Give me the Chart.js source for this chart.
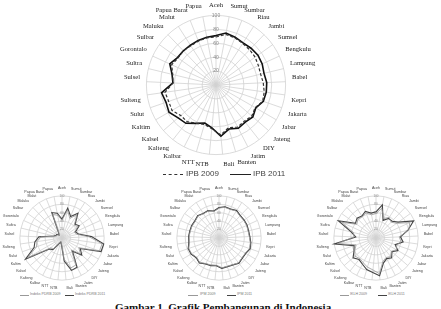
<!DOCTYPE html>
<html>
<head>
<meta charset="utf-8">
<script src="https://cdn.jsdelivr.net/npm/chart.js@4.4.0/dist/chart.umd.min.js"></script>
<style>
body{margin:0;background:#fff;width:441px;height:309px;overflow:hidden;position:relative;font-family:"Liberation Sans",Arial,sans-serif}
canvas{position:absolute}
.ln{position:absolute;height:0}
.tx{position:absolute;white-space:nowrap;color:#444}
#judul{position:absolute;left:115px;top:301px;font:bold 11px "Liberation Serif","Times New Roman",serif;color:#111;white-space:nowrap}
</style>
</head>
<body>
<canvas id="grafikIPB" width="220" height="170"></canvas>
<div class="ln" style="left:163px;top:174px;width:20px;border-top:1.3px dashed #333"></div>
<div class="tx" style="left:186px;top:169px;font-size:8px">IPB 2009</div>
<div class="ln" style="left:230px;top:174px;width:21px;border-top:1.8px solid #222"></div>
<div class="tx" style="left:253px;top:169px;font-size:8px">IPB 2011</div>

<canvas id="grafikPDRB" width="124" height="104"></canvas>
<canvas id="grafikIPM" width="124" height="104"></canvas>
<canvas id="grafikIKLH" width="124" height="104"></canvas>

<div class="ln" style="left:20px;top:295px;width:9px;border-top:0.8px solid #999"></div>
<div class="tx" style="left:30px;top:292px;font-size:3.6px;color:#777">Indeks PDRB 2009</div>
<div class="ln" style="left:65px;top:295px;width:9px;border-top:1px solid #444"></div>
<div class="tx" style="left:75px;top:292px;font-size:3.6px;color:#777">Indeks PDRB 2011</div>
<div class="ln" style="left:188px;top:295px;width:10px;border-top:0.8px solid #999"></div>
<div class="tx" style="left:200px;top:292px;font-size:3.6px;color:#777">IPM 2009</div>
<div class="ln" style="left:227px;top:295px;width:9px;border-top:1px solid #444"></div>
<div class="tx" style="left:237px;top:292px;font-size:3.6px;color:#777">IPM 2011</div>
<div class="ln" style="left:340px;top:295px;width:9px;border-top:0.8px solid #999"></div>
<div class="tx" style="left:350px;top:292px;font-size:3.6px;color:#777">IKLH 2009</div>
<div class="ln" style="left:378px;top:295px;width:9px;border-top:1px solid #444"></div>
<div class="tx" style="left:388px;top:292px;font-size:3.6px;color:#777">IKLH 2011</div>

<div id="judul">Gambar 1. Grafik Pembangunan di Indonesia</div>

<script>
var PROVINSI=["Aceh","Sumut","Sumbar","Riau","Jambi","Sumsel","Bengkulu","Lampung","Babel","Kepri","Jakarta","Jabar","Jateng","DIY","Jatim","Banten","Bali","NTB","NTT","Kalbar","Kalteng","Kalsel","Kaltim","Sulut","Sulteng","Sulsel","Sultra","Gorontalo","Sulbar","Maluku","Malut","Papua Barat","Papua"];

var IPB_2009=[69,74,73,71,70,69,67,66,68,70,71,65,68,66,68,64,72,63,59,62,67,67,73,72,74,62,64,70,67,68,67,68,69];
var IPB_2011=[71,76,74,72,73,74,73,71,73,73,72,66,70,68,70,66,74,62,57,62,70,72,78,76,79,62,65,73,68,68,68,69,70];

var PDRB_2009=[42,68,50,66,42,46,32,37,64,96,94,46,58,36,72,74,50,13,9,13,32,36,95,64,60,50,18,13,13,9,13,60,55];
var PDRB_2011=[45,72,55,70,45,50,35,40,70,100,98,50,62,40,78,80,55,15,10,15,35,40,100,70,65,55,20,15,15,10,15,65,60];

var IPM_2009=[71,74,73,76,72,72,72,71,72,75,77,72,72,75,71,70,71,65,67,68,74,70,75,76,71,71,70,70,69,72,68,69,64];
var IPM_2011=[72,75,74,77,73,73,73,72,73,76,78,73,73,76,72,71,72,66,68,69,75,71,76,77,72,72,71,71,70,73,69,70,65];

var IKLH_2009=[58,72,50,58,52,60,88,80,55,60,52,56,48,56,52,58,85,76,72,66,62,66,58,50,92,52,55,90,56,62,60,64,56];
var IKLH_2011=[62,80,45,55,55,65,98,78,58,65,48,60,50,60,55,62,90,82,78,70,65,72,60,55,100,48,60,98,60,65,62,68,60];

var TICK_MIN=0, TICK_MAX=100, TICK_STEP=20;

function buatRadar(cv,data2009,data2011,gaya){
	return new Chart(cv.getContext("2d"),{
		type:'radar',
		data:{
			labels:PROVINSI,
			datasets:[
				{label:gaya.nama+" 2009",data:data2009,borderColor:gaya.warna09,borderWidth:gaya.tebal09,borderDash:gaya.dash09,fill:false,pointRadius:0,tension:0},
				{label:gaya.nama+" 2011",data:data2011,borderColor:gaya.warna11,borderWidth:gaya.tebal11,fill:false,pointRadius:0,tension:0}
			]
		},
		options:{
			responsive:false,
			maintainAspectRatio:false,
			animation:false,
			devicePixelRatio:1,
			plugins:{legend:{display:false},tooltip:{enabled:false}},
			layout:{padding:0},
			scales:{
				r:{
					min:TICK_MIN,max:TICK_MAX,
					ticks:{stepSize:TICK_STEP,showLabelBackdrop:false,color:'#888',font:{size:gaya.ukuranTick}},
					grid:{circular:true,color:'#d2d2d2',lineWidth:0.8},
					angleLines:{color:'#d2d2d2',lineWidth:0.8},
					pointLabels:{color:gaya.warnaLabel,padding:gaya.padLabel,font:{size:gaya.ukuranLabel,family:gaya.huruf}}
				}
			}
		}
	});
}

// ukuran kanvas disesuaikan supaya jari-jari dan pusat sama dengan gambar asli
function pasang(id,data2009,data2011,gaya,tx,ty,tr){
	var cv=document.getElementById(id);
	var w=cv.width, h=cv.height, chart=null;
	for(var k=0;k<6;k++){
		if(chart) chart.destroy();
		cv.width=w; cv.height=h;
		chart=buatRadar(cv,data2009,data2011,gaya);
		var d=tr-chart.scales.r.drawingArea;
		if(Math.abs(d)<0.3) break;
		w=Math.round(w+2*d); h=Math.round(h+2*d);
	}
	cv.style.left=(tx-chart.scales.r.xCenter)+"px";
	cv.style.top=(ty-chart.scales.r.yCenter)+"px";
	return chart;
}

var gayaKecil={nama:"",warna09:'#999',tebal09:0.8,dash09:[],warna11:'#444',tebal11:1.1,ukuranTick:3,ukuranLabel:3.6,padLabel:2,huruf:'"Liberation Sans", sans-serif',warnaLabel:'#444'};

pasang("grafikIPB",IPB_2009,IPB_2011,{nama:"IPB",warna09:'#333',tebal09:1.2,dash09:[3,2],warna11:'#111',tebal11:1.6,ukuranTick:5,ukuranLabel:6.6,padLabel:2,huruf:'"Liberation Serif", serif',warnaLabel:'#222'},216,85,70);
pasang("grafikPDRB",PDRB_2009,PDRB_2011,Object.assign({},gayaKecil,{nama:"Indeks PDRB"}),62,238,42);
pasang("grafikIPM",IPM_2009,IPM_2011,Object.assign({},gayaKecil,{nama:"IPM",warna09:'#aaa',warna11:'#333',tebal11:1.3}),219,238,42);
pasang("grafikIKLH",IKLH_2009,IKLH_2011,Object.assign({},gayaKecil,{nama:"IKLH"}),376,238,42);
</script>
</body>
</html>
